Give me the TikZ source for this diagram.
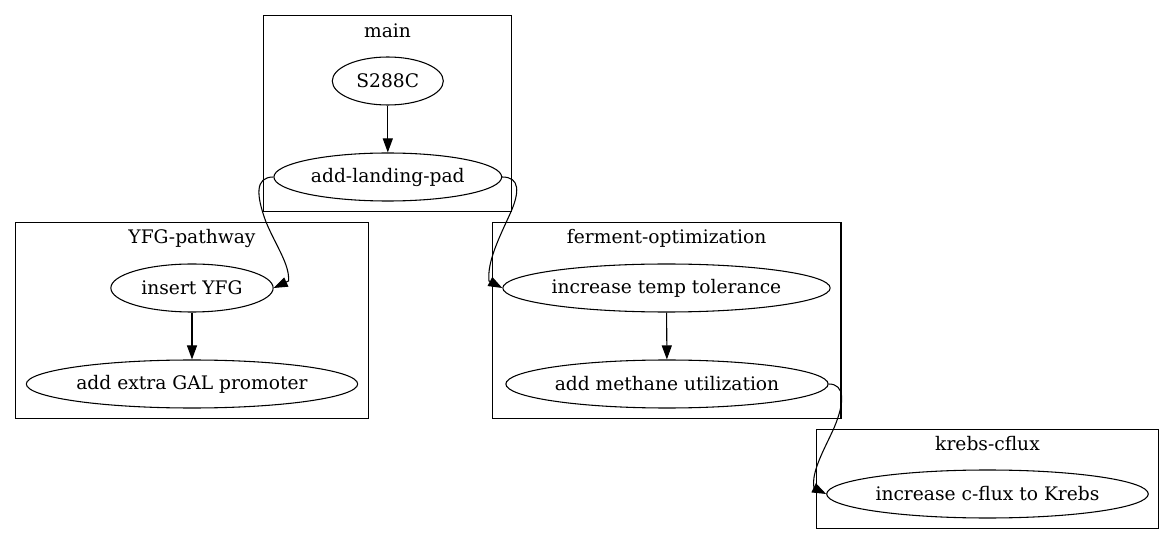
\documentclass[tikz,border=0pt]{standalone}
\usepackage{fontspec}
\setmainfont{DejaVu Serif}
\usetikzlibrary{shapes.geometric,arrows.meta}
\tikzset{
  gvfont/.style={font=\fontsize{14}{17}\selectfont},
  proc/.style={ellipse, draw, line width=0.8pt, inner sep=0pt, minimum height=36pt, gvfont},
  cluster/.style={draw, line width=0.9pt},
  clabel/.style={inner sep=0pt, gvfont},
  edge/.style={line width=0.8pt, -{Triangle[length=10.5pt,width=7.5pt]}}
}
\begin{document}
\begin{tikzpicture}[x=0.75pt,y=-0.75pt]
\useasboundingbox (0,0) rectangle (1175,545);
% clusters
\draw[cluster] (263.3,15.7) rectangle (511.7,211.7);
\draw[cluster] (15.7,222.7) rectangle (368.3,418.3);
\draw[cluster] (492.3,222.7) rectangle (841,418.3);
\draw[cluster] (816.7,429.3) rectangle (1158.3,528.3);
\node[clabel] (lmain) at (387.5,30.5) {main};
\node[clabel] (lyfg) at (192,238) {YFG-pathway};
\node[clabel] (lferm) at (666.7,238) {ferment-optimization};
\node[clabel] (lkrebs) at (987.5,444) {krebs-cflux};
% nodes
\node[proc, minimum width=83.3pt] (s288c) at (387.8,81) {S288C};
\node[proc, minimum width=170.8pt] (lp) at (387.8,177) {add-landing-pad};
\node[proc, minimum width=121.7pt] (yfg) at (192,288) {insert YFG};
\node[proc, minimum width=248.5pt] (gal) at (192,384) {add extra GAL promoter};
\node[proc, minimum width=245.5pt] (itt) at (666.5,288) {increase temp tolerance};
\node[proc, minimum width=241.7pt] (amu) at (667,384) {add methane utilization};
\node[proc, minimum width=241.2pt] (cflux) at (987.5,494) {increase c-flux to Krebs};
% edges
\draw[edge] (s288c) -- (lp);
\draw[edge] (yfg) -- (gal);
\draw[edge] (itt) -- (amu);
\draw[edge] (lp.west) .. controls (255,177) and (256,195) .. (266,222)
  .. controls (276,246) and (290,265) .. (288.5,281) -- (yfg.east);
\draw[edge] (lp.east) .. controls (520,177) and (520,192) .. (510,214)
  .. controls (499,238) and (487,262) .. (489,281) -- (itt.west);
\draw[edge] (amu.east) .. controls (845,384) and (845,402) .. (834,428)
  .. controls (824,450) and (811,472) .. (814,488) -- (cflux.west);
\end{tikzpicture}
\end{document}
